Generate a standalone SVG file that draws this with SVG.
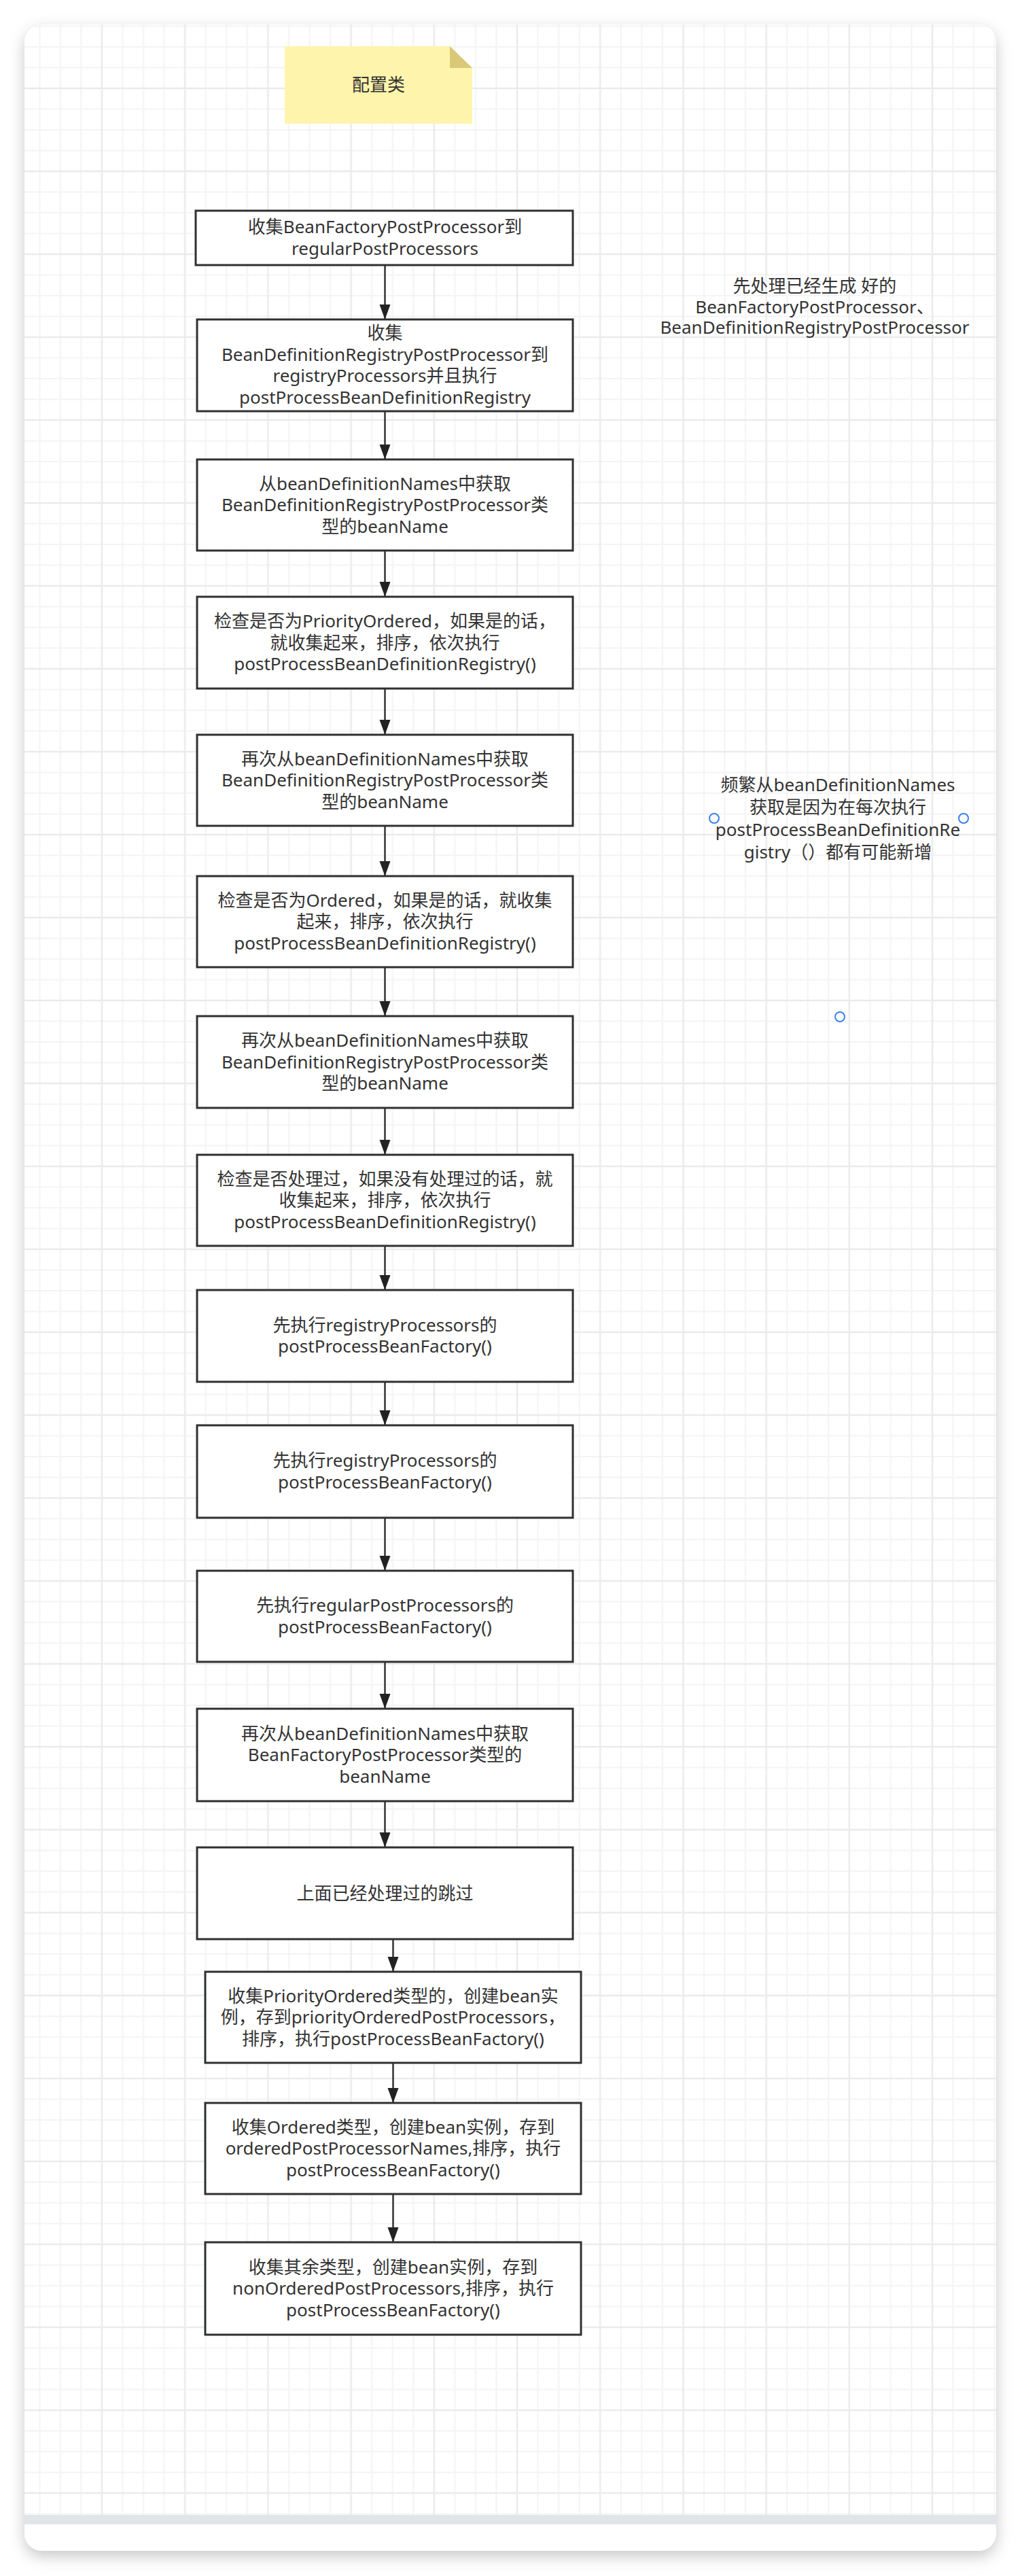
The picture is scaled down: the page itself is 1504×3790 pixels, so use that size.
<svg xmlns="http://www.w3.org/2000/svg" width="1504" height="3790" viewBox="0 0 1504 3790">
<style>
  .txt { font-family: "Noto Sans", "Noto Sans CJK SC", sans-serif; font-size: 26px; fill: #333333; text-anchor: middle; }
  .box { fill: #ffffff; stroke: #2e3032; stroke-width: 3; }
  .conn { stroke: #333333; stroke-width: 2.5; fill: none; marker-end: url(#arrow); }
  .handle { fill: #ffffff; stroke: #3b7ff3; stroke-width: 2; }
</style>
<defs>
  <filter id="cardShadow" x="-5%" y="-2%" width="110%" height="104%">
    <feDropShadow dx="0" dy="8" stdDeviation="11" flood-color="#000000" flood-opacity="0.22"/>
  </filter>
  <pattern id="grid" patternUnits="userSpaceOnUse" x="27.8" y="8" width="122.2" height="122">
    <rect x="29.55" y="0" width="2" height="122" fill="#f4f4f4"/>
    <rect x="60.1" y="0" width="2" height="122" fill="#f4f4f4"/>
    <rect x="90.65" y="0" width="2" height="122" fill="#f4f4f4"/>
    <rect x="0" y="29.5" width="122.2" height="2" fill="#f4f4f4"/>
    <rect x="0" y="60" width="122.2" height="2" fill="#f4f4f4"/>
    <rect x="0" y="90.5" width="122.2" height="2" fill="#f4f4f4"/>
    <rect x="-1.25" y="0" width="2.5" height="122" fill="#ebebeb"/>
    <rect x="0" y="-1.25" width="122.2" height="2.5" fill="#ebebeb"/>
    <rect x="120.95" y="0" width="2.5" height="122" fill="#ebebeb"/>
    <rect x="0" y="120.75" width="122.2" height="2.5" fill="#ebebeb"/>
  </pattern>
  <clipPath id="gridClip">
    <path d="M36,62 A26,26 0 0 1 62,36 H1440 A26,26 0 0 1 1466,62 V3700 H36 Z"/>
  </clipPath>
  <marker id="arrow" markerUnits="userSpaceOnUse" markerWidth="23" markerHeight="17" refX="22" refY="8" orient="auto">
    <path d="M0,0 L22,8 L0,16 Z" fill="#222222"/>
  </marker>
</defs>

<rect x="0" y="0" width="1504" height="3790" fill="#ffffff"/>

<g id="card">
  <rect x="36" y="36" width="1430" height="3717" rx="26" ry="26" fill="#ffffff" filter="url(#cardShadow)"/>
  <rect x="36" y="36" width="1430" height="3664" fill="url(#grid)" clip-path="url(#gridClip)"/>
  <rect x="36" y="3700" width="1430" height="14" fill="#e1e5e9"/>
</g>

<g id="sticky-note">
  <path d="M419,68 H662 L695,100 V182 H419 Z" fill="#fff4ab"/>
  <path d="M662,68 L695,100 H662 Z" fill="#d9c877"/>
  <text class="txt" x="557" y="134">配置类</text>
</g>

<g id="connectors">
  <line class="conn" x1="566.5" y1="390" x2="566.5" y2="470"/>
  <line class="conn" x1="566.5" y1="605" x2="566.5" y2="676"/>
  <line class="conn" x1="566.5" y1="810" x2="566.5" y2="878"/>
  <line class="conn" x1="566.5" y1="1013" x2="566.5" y2="1081"/>
  <line class="conn" x1="566.5" y1="1215" x2="566.5" y2="1289"/>
  <line class="conn" x1="566.5" y1="1423" x2="566.5" y2="1495"/>
  <line class="conn" x1="566.5" y1="1630" x2="566.5" y2="1699"/>
  <line class="conn" x1="566.5" y1="1833" x2="566.5" y2="1898"/>
  <line class="conn" x1="566.5" y1="2033" x2="566.5" y2="2097"/>
  <line class="conn" x1="566.5" y1="2233" x2="566.5" y2="2311"/>
  <line class="conn" x1="566.5" y1="2445" x2="566.5" y2="2514"/>
  <line class="conn" x1="566.5" y1="2650" x2="566.5" y2="2718"/>
  <line class="conn" x1="578.5" y1="2853" x2="578.5" y2="2901"/>
  <line class="conn" x1="578.5" y1="3035" x2="578.5" y2="3094"/>
  <line class="conn" x1="578.5" y1="3228" x2="578.5" y2="3299"/>
</g>

<g id="n1">
  <rect class="box" x="288" y="310" width="555" height="80"/>
  <text class="txt" x="566.5" y="343.25">收集BeanFactoryPostProcessor到</text>
  <text class="txt" x="566.5" y="374.75">regularPostProcessors</text>
</g>
<g id="n2">
  <rect class="box" x="290" y="470" width="553" height="135"/>
  <text class="txt" x="566.5" y="499.25">收集</text>
  <text class="txt" x="566.5" y="530.75">BeanDefinitionRegistryPostProcessor到</text>
  <text class="txt" x="566.5" y="562.25">registryProcessors并且执行</text>
  <text class="txt" x="566.5" y="593.75">postProcessBeanDefinitionRegistry</text>
</g>
<g id="n3">
  <rect class="box" x="290" y="676" width="553" height="134"/>
  <text class="txt" x="566.5" y="720.5">从beanDefinitionNames中获取</text>
  <text class="txt" x="566.5" y="752">BeanDefinitionRegistryPostProcessor类</text>
  <text class="txt" x="566.5" y="783.5">型的beanName</text>
</g>
<g id="n4">
  <rect class="box" x="290" y="878" width="553" height="135"/>
  <text class="txt" x="566.5" y="923">检查是否为PriorityOrdered，如果是的话，</text>
  <text class="txt" x="566.5" y="954.5">就收集起来，排序，依次执行</text>
  <text class="txt" x="566.5" y="986">postProcessBeanDefinitionRegistry()</text>
</g>
<g id="n5">
  <rect class="box" x="290" y="1081" width="553" height="134"/>
  <text class="txt" x="566.5" y="1125.5">再次从beanDefinitionNames中获取</text>
  <text class="txt" x="566.5" y="1157">BeanDefinitionRegistryPostProcessor类</text>
  <text class="txt" x="566.5" y="1188.5">型的beanName</text>
</g>
<g id="n6">
  <rect class="box" x="290" y="1289" width="553" height="134"/>
  <text class="txt" x="566.5" y="1333.5">检查是否为Ordered，如果是的话，就收集</text>
  <text class="txt" x="566.5" y="1365">起来，排序，依次执行</text>
  <text class="txt" x="566.5" y="1396.5">postProcessBeanDefinitionRegistry()</text>
</g>
<g id="n7">
  <rect class="box" x="290" y="1495" width="553" height="135"/>
  <text class="txt" x="566.5" y="1540">再次从beanDefinitionNames中获取</text>
  <text class="txt" x="566.5" y="1571.5">BeanDefinitionRegistryPostProcessor类</text>
  <text class="txt" x="566.5" y="1603">型的beanName</text>
</g>
<g id="n8">
  <rect class="box" x="290" y="1699" width="553" height="134"/>
  <text class="txt" x="566.5" y="1743.5">检查是否处理过，如果没有处理过的话，就</text>
  <text class="txt" x="566.5" y="1775">收集起来，排序，依次执行</text>
  <text class="txt" x="566.5" y="1806.5">postProcessBeanDefinitionRegistry()</text>
</g>
<g id="n9">
  <rect class="box" x="290" y="1898" width="553" height="135"/>
  <text class="txt" x="566.5" y="1958.75">先执行registryProcessors的</text>
  <text class="txt" x="566.5" y="1990.25">postProcessBeanFactory()</text>
</g>
<g id="n10">
  <rect class="box" x="290" y="2097" width="553" height="136"/>
  <text class="txt" x="566.5" y="2158.25">先执行registryProcessors的</text>
  <text class="txt" x="566.5" y="2189.75">postProcessBeanFactory()</text>
</g>
<g id="n11">
  <rect class="box" x="290" y="2311" width="553" height="134"/>
  <text class="txt" x="566.5" y="2371.25">先执行regularPostProcessors的</text>
  <text class="txt" x="566.5" y="2402.75">postProcessBeanFactory()</text>
</g>
<g id="n12">
  <rect class="box" x="290" y="2514" width="553" height="136"/>
  <text class="txt" x="566.5" y="2559.5">再次从beanDefinitionNames中获取</text>
  <text class="txt" x="566.5" y="2591">BeanFactoryPostProcessor类型的</text>
  <text class="txt" x="566.5" y="2622.5">beanName</text>
</g>
<g id="n13">
  <rect class="box" x="290" y="2718" width="553" height="135"/>
  <text class="txt" x="566.5" y="2794.5">上面已经处理过的跳过</text>
</g>
<g id="n14">
  <rect class="box" x="302" y="2901" width="553" height="134"/>
  <text class="txt" x="578.5" y="2945.5">收集PriorityOrdered类型的，创建bean实</text>
  <text class="txt" x="578.5" y="2977">例，存到priorityOrderedPostProcessors，</text>
  <text class="txt" x="578.5" y="3008.5">排序，执行postProcessBeanFactory()</text>
</g>
<g id="n15">
  <rect class="box" x="302" y="3094" width="553" height="134"/>
  <text class="txt" x="578.5" y="3138.5">收集Ordered类型，创建bean实例，存到</text>
  <text class="txt" x="578.5" y="3170">orderedPostProcessorNames,排序，执行</text>
  <text class="txt" x="578.5" y="3201.5">postProcessBeanFactory()</text>
</g>
<g id="n16">
  <rect class="box" x="302" y="3299" width="553" height="136"/>
  <text class="txt" x="578.5" y="3344.5">收集其余类型，创建bean实例，存到</text>
  <text class="txt" x="578.5" y="3376">nonOrderedPostProcessors,排序，执行</text>
  <text class="txt" x="578.5" y="3407.5">postProcessBeanFactory()</text>
</g>

<g id="note1">
  <text class="txt" x="1199" y="430">先处理已经生成 好的</text>
  <text class="txt" x="1199" y="460.5">BeanFactoryPostProcessor、</text>
  <text class="txt" x="1199" y="491">BeanDefinitionRegistryPostProcessor</text>
</g>

<g id="note2">
  <text class="txt" x="1233" y="1164">频繁从beanDefinitionNames</text>
  <text class="txt" x="1233" y="1197">获取是因为在每次执行</text>
  <text class="txt" x="1233" y="1230">postProcessBeanDefinitionRe</text>
  <text class="txt" x="1233" y="1263">gistry（）都有可能新增</text>
  <circle class="handle" cx="1051" cy="1204" r="7"/>
  <circle class="handle" cx="1418" cy="1204" r="7"/>
  <circle class="handle" cx="1236" cy="1496" r="7"/>
</g>
</svg>
